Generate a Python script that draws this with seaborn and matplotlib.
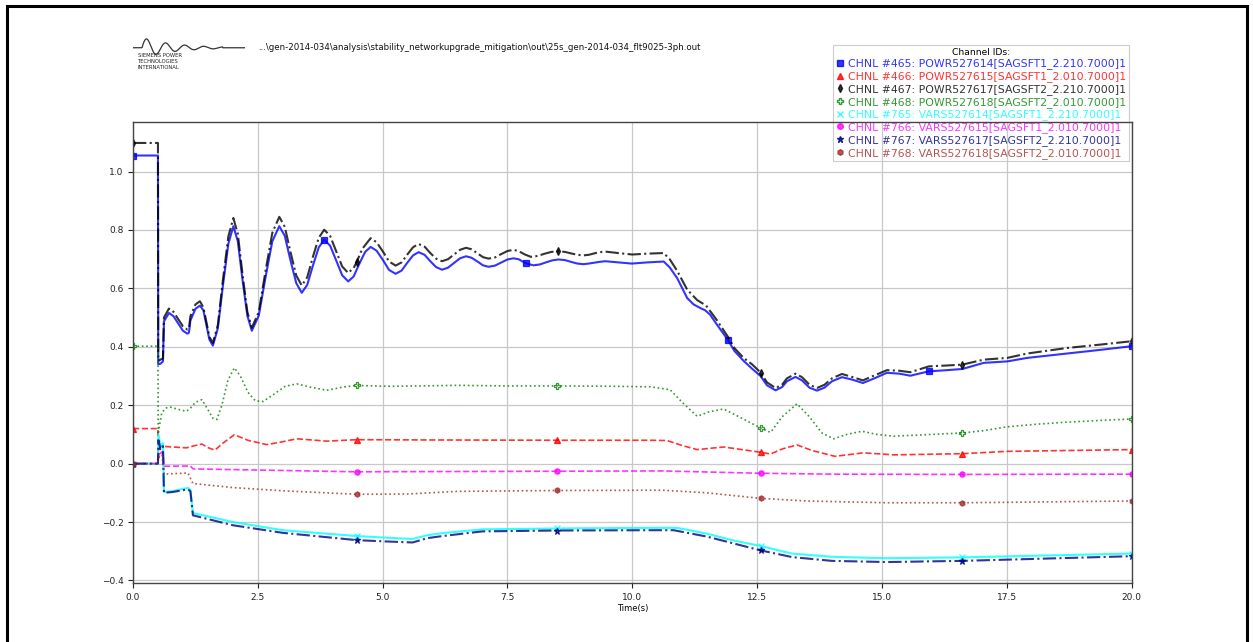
import numpy as np
import pandas as pd
import matplotlib
matplotlib.use("Agg")
import matplotlib.pyplot as plt
from matplotlib.lines import Line2D
from matplotlib.patches import Rectangle
import seaborn as sns

# ---------------- data ----------------
t465 = [0, 0.5, 0.505, 0.55, 0.6, 0.62, 0.72, 0.81, 0.905, 1.0, 1.09, 1.12, 1.15, 1.25, 1.34,
        1.41, 1.47, 1.53, 1.60, 1.70, 1.80, 1.91, 2.01, 2.10, 2.19, 2.29, 2.38, 2.52, 2.65, 2.79,
        2.93, 3.04, 3.15, 3.27, 3.38, 3.49, 3.60, 3.72, 3.83, 3.95, 4.07, 4.19, 4.31, 4.42, 4.53,
        4.65, 4.76, 4.88, 5.01, 5.13, 5.26, 5.38, 5.49, 5.61, 5.72, 5.84, 5.95, 6.07, 6.19, 6.31,
        6.43, 6.55, 6.67, 6.78, 6.90, 7.01, 7.12, 7.25, 7.37, 7.50, 7.62, 7.72, 7.87, 8.02, 8.15,
        8.27, 8.40, 8.52, 8.65, 8.77, 8.90, 9.02, 9.13, 9.24, 9.35, 9.46, 9.72, 9.99, 10.3, 10.63,
        10.75, 10.9, 11.1, 11.23, 11.36, 11.46, 11.56, 11.7, 11.91, 12.05, 12.23, 12.4, 12.57,
        12.7, 12.87, 13.0, 13.1, 13.27, 13.4, 13.55, 13.7, 13.85, 14.0, 14.2, 14.4, 14.62, 14.85,
        15.1, 15.35, 15.57, 15.94, 16.3, 16.61, 17.04, 17.51, 17.91, 18.71, 19.4, 20.0]
v465 = [1.055, 1.055, 0.34, 0.342, 0.35, 0.487, 0.516, 0.505, 0.48, 0.455, 0.445, 0.448, 0.49,
        0.53, 0.541, 0.525, 0.475, 0.425, 0.404, 0.464, 0.608, 0.753, 0.813, 0.761, 0.634, 0.507,
        0.455, 0.507, 0.634, 0.761, 0.813, 0.780, 0.699, 0.618, 0.585, 0.612, 0.676, 0.740, 0.767,
        0.746, 0.696, 0.645, 0.624, 0.641, 0.683, 0.725, 0.742, 0.729, 0.696, 0.663, 0.650, 0.661,
        0.687, 0.713, 0.724, 0.715, 0.694, 0.673, 0.664, 0.671, 0.687, 0.703, 0.710, 0.705, 0.692,
        0.679, 0.674, 0.678, 0.688, 0.699, 0.703, 0.700, 0.686, 0.679, 0.682, 0.689, 0.696, 0.699,
        0.697, 0.691, 0.685, 0.683, 0.685, 0.688, 0.691, 0.693, 0.689, 0.685, 0.689, 0.692, 0.672,
        0.635, 0.567, 0.545, 0.533, 0.525, 0.510, 0.475, 0.425, 0.385, 0.352, 0.325, 0.300, 0.268,
        0.251, 0.262, 0.282, 0.297, 0.285, 0.260, 0.250, 0.260, 0.282, 0.296, 0.288, 0.276, 0.292,
        0.311, 0.308, 0.301, 0.316, 0.320, 0.324, 0.345, 0.350, 0.362, 0.377, 0.390, 0.402]

t467 = [0, 0.5, 0.505, 0.55, 0.6, 0.62, 0.72, 0.81, 0.905, 1.0, 1.09, 1.12, 1.15, 1.25, 1.34,
        1.41, 1.47, 1.53, 1.60, 1.70, 1.80, 1.91, 2.01, 2.10, 2.19, 2.29, 2.38, 2.52, 2.65, 2.79,
        2.93, 3.04, 3.15, 3.27, 3.38, 3.49, 3.60, 3.72, 3.83, 3.95, 4.07, 4.19, 4.31, 4.42, 4.48,
        4.59, 4.76, 4.88, 5.01, 5.13, 5.26, 5.38, 5.49, 5.61, 5.72, 5.84, 5.95, 6.07, 6.19, 6.31,
        6.43, 6.55, 6.67, 6.78, 6.90, 7.01, 7.12, 7.25, 7.37, 7.50, 7.62, 7.72, 7.85, 7.97, 8.1,
        8.25, 8.38, 8.52, 8.65, 8.77, 8.9, 9.02, 9.13, 9.24, 9.35, 9.46, 9.72, 10.0, 10.3, 10.63,
        10.75, 10.9, 11.1, 11.3, 11.48, 11.7, 11.91, 12.05, 12.23, 12.4, 12.57, 12.7, 12.87, 13.0,
        13.1, 13.27, 13.4, 13.55, 13.7, 13.85, 14.0, 14.2, 14.4, 14.62, 14.85, 15.1, 15.35, 15.57,
        15.94, 16.3, 16.61, 17.04, 17.51, 17.91, 18.71, 19.4, 20.0]
v467 = [1.098, 1.098, 0.352, 0.356, 0.36, 0.50, 0.531, 0.52, 0.495, 0.47, 0.459, 0.462, 0.505,
        0.545, 0.556, 0.535, 0.485, 0.434, 0.413, 0.475, 0.627, 0.778, 0.841, 0.786, 0.653, 0.520,
        0.465, 0.520, 0.655, 0.790, 0.845, 0.811, 0.728, 0.644, 0.610, 0.638, 0.706, 0.773, 0.801,
        0.779, 0.727, 0.675, 0.653, 0.670, 0.690, 0.735, 0.772, 0.758, 0.725, 0.692, 0.678, 0.689,
        0.715, 0.741, 0.752, 0.743, 0.722, 0.702, 0.693, 0.700, 0.716, 0.732, 0.739, 0.734, 0.720,
        0.707, 0.702, 0.706, 0.717, 0.728, 0.732, 0.728, 0.716, 0.708, 0.711, 0.719, 0.725, 0.727,
        0.725, 0.720, 0.715, 0.713, 0.715, 0.720, 0.724, 0.726, 0.721, 0.716, 0.719, 0.721, 0.70,
        0.66, 0.596, 0.560, 0.541, 0.49, 0.436, 0.395, 0.362, 0.340, 0.312, 0.278, 0.259, 0.270,
        0.292, 0.308, 0.296, 0.270, 0.259, 0.270, 0.292, 0.307, 0.297, 0.285, 0.302, 0.320, 0.318,
        0.313, 0.333, 0.336, 0.339, 0.356, 0.362, 0.377, 0.396, 0.408, 0.419]

t468 = [0, 0.5, 0.505, 0.53, 0.575, 0.65, 0.74, 0.9, 1.07, 1.15, 1.25, 1.38, 1.5, 1.6, 1.68, 1.78,
        1.9, 2.03, 2.15, 2.3, 2.45, 2.61, 2.8, 3.05, 3.28, 3.55, 3.88, 4.2, 4.48, 5.0, 5.35, 6.5,
        7.5, 8.5, 9.5, 10.36, 10.76, 11.0, 11.30, 11.55, 11.83, 12.2, 12.57, 12.77, 13.0, 13.30,
        13.55, 13.8, 14.03, 14.3, 14.60, 14.9, 15.24, 16.0, 16.61, 17.0, 17.51, 18.1, 18.71, 19.4,
        20.0]
v468 = [0.402, 0.402, 0.10, 0.13, 0.173, 0.19, 0.194, 0.186, 0.179, 0.19, 0.21, 0.219, 0.185,
        0.155, 0.151, 0.20, 0.285, 0.328, 0.300, 0.245, 0.215, 0.213, 0.235, 0.265, 0.273, 0.262,
        0.251, 0.262, 0.268, 0.265, 0.265, 0.268, 0.266, 0.266, 0.265, 0.263, 0.253, 0.21, 0.162,
        0.178, 0.187, 0.155, 0.122, 0.107, 0.16, 0.205, 0.16, 0.105, 0.085, 0.10, 0.111, 0.100,
        0.094, 0.100, 0.105, 0.112, 0.126, 0.135, 0.142, 0.148, 0.153]

t466 = [0, 0.5, 0.505, 0.55, 0.61, 0.8, 1.07, 1.2, 1.38, 1.5, 1.64, 1.8, 2.03, 2.3, 2.68, 3.0,
        3.28, 3.88, 4.48, 6.0, 8.5, 10.36, 10.70, 11.0, 11.30, 11.83, 12.2, 12.57, 12.77, 13.0,
        13.30, 13.6, 14.06, 14.63, 15.24, 16.61, 17.51, 20.0]
v466 = [0.120, 0.120, 0.02, 0.06, 0.059, 0.057, 0.054, 0.06, 0.067, 0.055, 0.046, 0.07, 0.099,
        0.08, 0.065, 0.075, 0.085, 0.077, 0.082, 0.081, 0.080, 0.080, 0.079, 0.062, 0.048, 0.057,
        0.048, 0.039, 0.033, 0.050, 0.064, 0.045, 0.025, 0.037, 0.030, 0.034, 0.042, 0.048]

t765 = [0, 0.5, 0.51, 0.55, 0.6, 0.62, 0.8, 1.1, 1.15, 1.2, 2.0, 3.0, 4.48, 5.0, 5.6, 5.9, 6.2,
        7.0, 8.5, 10.36, 10.9, 11.5, 12.0, 12.57, 13.2, 14.0, 15.1, 16.61, 20.0]
v765 = [0.0, 0.0, 0.10, 0.06, 0.07, -0.097, -0.094, -0.083, -0.09, -0.169, -0.20, -0.228, -0.248,
        -0.253, -0.258, -0.245, -0.238, -0.225, -0.222, -0.220, -0.220, -0.240, -0.262, -0.282,
        -0.308, -0.319, -0.324, -0.321, -0.308]

t767 = [0, 0.5, 0.51, 0.55, 0.6, 0.62, 0.8, 1.1, 1.15, 1.2, 2.0, 3.0, 4.48, 5.0, 5.6, 5.9, 6.2,
        7.0, 8.5, 10.36, 10.83, 11.5, 12.0, 12.57, 13.2, 14.0, 15.1, 16.61, 20.0]
v767 = [0.0, 0.0, 0.08, 0.05, 0.06, -0.10, -0.097, -0.088, -0.095, -0.177, -0.211, -0.237, -0.262,
        -0.266, -0.270, -0.255, -0.248, -0.232, -0.229, -0.228, -0.228, -0.25, -0.272, -0.297,
        -0.320, -0.333, -0.337, -0.333, -0.317]

t766 = [0, 0.5, 0.51, 0.58, 0.61, 0.62, 1.15, 1.2, 2.5, 4.48, 8.5, 10.6, 12.57, 14.0, 16.61, 20.0]
v766 = [0.0, 0.0, 0.03, 0.04, 0.02, -0.009, -0.008, -0.018, -0.022, -0.028, -0.026, -0.025,
        -0.033, -0.036, -0.037, -0.036]

t768 = [0, 0.5, 0.51, 0.58, 0.62, 1.1, 1.2, 2.0, 3.0, 4.48, 5.5, 6.5, 8.5, 10.6, 11.5, 12.57,
        13.5, 15.1, 16.61, 20.0]
v768 = [0.0, 0.0, 0.02, 0.03, -0.036, -0.032, -0.068, -0.082, -0.093, -0.105, -0.104, -0.095,
        -0.092, -0.091, -0.100, -0.119, -0.128, -0.134, -0.134, -0.128]

channel_labels = [
    "CHNL #465: POWR527614[SAGSFT1_2.210.7000]1",
    "CHNL #466: POWR527615[SAGSFT1_2.010.7000]1",
    "CHNL #467: POWR527617[SAGSFT2_2.210.7000]1",
    "CHNL #468: POWR527618[SAGSFT2_2.010.7000]1",
    "CHNL #765: VARS527614[SAGSFT1_2.210.7000]1",
    "CHNL #766: VARS527615[SAGSFT1_2.010.7000]1",
    "CHNL #767: VARS527617[SAGSFT2_2.210.7000]1",
    "CHNL #768: VARS527618[SAGSFT2_2.010.7000]1",
]
x_ticks = [0.0, 2.5, 5.0, 7.5, 10.0, 12.5, 15.0, 17.5, 20.0]
y_ticks = [-0.4, -0.2, 0.0, 0.2, 0.4, 0.6, 0.8, 1.0]
file_path = r"...\gen-2014-034\analysis\stability_networkupgrade_mitigation\out\25s_gen-2014-034_flt9025-3ph.out"

# ---------------- styling ----------------
series = [
    (t465, v465, "blue", "-", "s", 1.5, "none"),
    (t466, v466, "red", "--", "^", 1.2, "none"),
    (t467, v467, "black", "-.", "d", 1.5, "none"),
    (t468, v468, "green", ":", "P", 1.2, "hollow"),
    (t765, v765, "cyan", "-", "x", 1.5, "none"),
    (t766, v766, "magenta", "--", "o", 1.2, "none"),
    (t767, v767, "navy", "-.", "*", 1.5, "none"),
    (t768, v768, "brown", ":", "h", 1.2, "none"),
]
mark_times_default = [0, 4.48, 8.5, 12.57, 16.61, 20]
mark_times_blue = [0, 3.83, 7.87, 11.91, 15.94, 20]
ALPHA = 0.8

W, H = 1253, 642
fig = plt.figure(figsize=(W / 100, H / 100), dpi=100)
fig.patch.set_facecolor("white")

ax = fig.add_axes([133 / W, 1 - 583 / H, (1131.5 - 133) / W, (583 - 122) / H])
ax.patch.set_visible(False)

for i, (t, v, c, ls, mk, lw, fill) in enumerate(series):
    df = pd.DataFrame({"time": t, "value": v})
    tarr = np.asarray(t)
    mtimes = mark_times_blue if i == 0 else mark_times_default
    idx = sorted(set(int(np.argmin(np.abs(tarr - m))) for m in mtimes))
    kw = dict(marker=mk, markevery=idx, markersize=3.8 if mk != "*" else 4.8,
              markeredgewidth=0.9, markeredgecolor=c,
              markerfacecolor="none" if fill == "hollow" else c)
    sns.lineplot(data=df, x="time", y="value", ax=ax, color=c, linestyle=ls, linewidth=lw,
                 alpha=ALPHA, sort=False, estimator=None, legend=False, **kw)

ax.set_xlim(0, 20)
ax.margins(y=0.05)
ax.set_xticks(x_ticks)
ax.set_yticks(y_ticks)
ax.set_xticklabels([f"{x:.1f}" for x in x_ticks])
ax.set_yticklabels([f"{y:.1f}".replace("-", "\u2212") for y in y_ticks])
ax.tick_params(labelsize=6.5, colors="#222222", length=3.5, width=0.8)
ax.grid(True, color="#c8c8c8", linewidth=0.9)
ax.set_axisbelow(True)
ax.set_xlabel("Time(s)", fontsize=6, labelpad=2)
ax.set_ylabel("")
for s in ax.spines.values():
    s.set_color("#444444")
    s.set_linewidth(1.0)

# legend (figure level, drawn beneath the axes so grid lines pass over it)
handles = []
for (t, v, c, ls, mk, lw, fill) in series:
    h = Line2D([], [], linestyle="none", marker=mk, color=c, alpha=ALPHA,
               markersize=4 if mk != "*" else 5,
               markerfacecolor="none" if fill == "hollow" else c)
    handles.append(h)
leg = fig.legend(handles, channel_labels, loc="upper left",
                 bbox_to_anchor=(833 / W, 1 - 45 / H), bbox_transform=fig.transFigure,
                 fontsize=7.8, title="Channel IDs:", title_fontsize=6.6,
                 handlelength=0.7, handletextpad=0.45, labelspacing=0.17,
                 borderpad=0.25, borderaxespad=0, frameon=True, fancybox=False,
                 edgecolor="#cccccc", framealpha=1.0)
leg.get_frame().set_linewidth(0.8)
for txt, (t, v, c, ls, mk, lw, fill) in zip(leg.get_texts(), series):
    txt.set_color(c)
    txt.set_alpha(ALPHA)
leg.set_zorder(-1)

# logo wave and caption
logo = fig.add_axes([133 / W, 1 - 58 / H, (245 - 133) / W, 22 / H])
logo.set_axis_off()
lx = np.linspace(0, 1, 400)
ly = np.where(lx < 0.08, 0.0,
              np.sin((lx - 0.08) * 2 * np.pi / 0.17) * np.exp(-(lx - 0.08) * 3.5))
ly = np.where(lx > 0.80, 0.0, ly)
logo.plot(lx, ly, color="#333333", linewidth=0.9)
logo.set_xlim(0, 1)
logo.set_ylim(-1.0, 1.15)
fig.text(138 / W, 1 - 53 / H, "SIEMENS POWER\nTECHNOLOGIES\nINTERNATIONAL",
         fontsize=3.8, va="top", ha="left", linespacing=1.3, color="#222222")

fig.text(258 / W, 1 - 48 / H, file_path, fontsize=6.2, va="center", ha="left", color="#111111")

# page frame
fig.add_artist(Rectangle((7 / W, -0.05), (1247 - 7) / W, (1 - 6 / H) + 0.05,
                         transform=fig.transFigure, fill=False, edgecolor="black",
                         linewidth=2.2, clip_on=False))

fig.savefig("out.png", dpi=100)
